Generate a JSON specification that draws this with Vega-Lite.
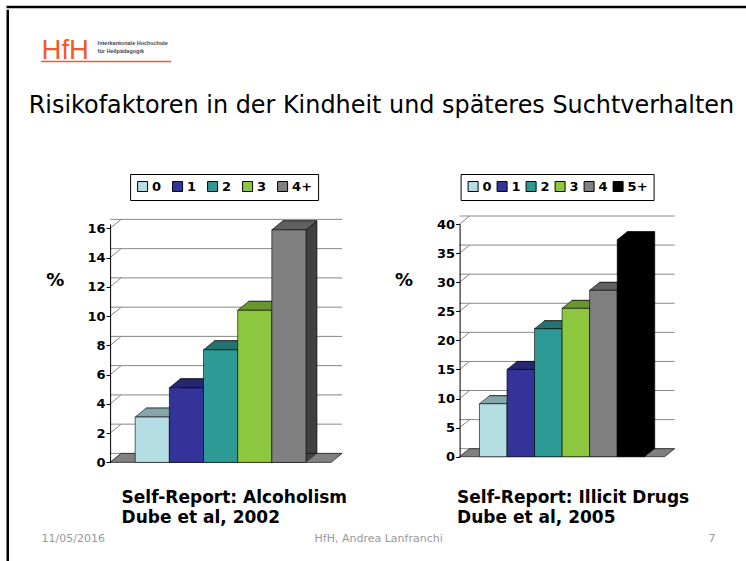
{
  "$schema": "https://vega.github.io/schema/vega-lite/v6.json",
  "background": "white",
  "padding": {"left": 5.75, "top": 5, "right": 0, "bottom": 0},
  "config": {"view": {"stroke": null}, "font": "DejaVu Sans"},
  "datasets": {
    "ticksL": [{"pct": 0}, {"pct": 2}, {"pct": 4}, {"pct": 6}, {"pct": 8}, {"pct": 10}, {"pct": 12}, {"pct": 14}, {"pct": 16}],
    "ticksR": [{"pct": 0}, {"pct": 5}, {"pct": 10}, {"pct": 15}, {"pct": 20}, {"pct": 25}, {"pct": 30}, {"pct": 35}, {"pct": 40}]
  },
  "spacing": 0,
  "vconcat": [
    {
      "width": 742, "height": 0.01,
      "view": {"stroke": "#000000", "strokeWidth": 2.5},
      "data": {"values": []},
      "mark": {"type": "point", "opacity": 0},
      "encoding": {}
    },
    {
      "spacing": 18.35,
      "hconcat": [
        {
          "width": 0.01, "height": 553,
          "view": {"stroke": "#000000", "strokeWidth": 2.5},
          "data": {"values": []},
          "mark": {"type": "point", "opacity": 0},
          "encoding": {}
        },
        {
          "spacing": 6,
          "vconcat": [
            {
              "width": 130, "height": 50.5,
              "data": {"values": [{}]},
              "mark": {"type": "rule", "color": "#EF5B2C", "strokeWidth": 1.3},
              "encoding": {
                "x": {"datum": -69, "type": "quantitative", "scale": {"domain": [0, 130]},
                  "axis": {"orient": "top", "domain": false, "ticks": false, "labels": false, "grid": false,
                    "title": "HfH", "titleFont": "Liberation Sans", "titleFontSize": 27.5, "titleFontWeight": "normal", "titleColor": "#EF5B2C",
                    "titleX": -69, "titleY": 47.5, "titleAlign": "left", "titleBaseline": "alphabetic", "titleAnchor": "start"}},
                "x2": {"datum": 61},
                "y": {"datum": 0, "type": "quantitative", "scale": {"domain": [0, 1]},
                  "axis": {"orient": "left", "domain": false, "ticks": false, "labels": false, "grid": false,
                    "title": ["Interkantonale Hochschule", "für Heilpädagogik"],
                    "titleFont": "Liberation Sans", "titleFontSize": 5.5, "titleFontWeight": "bold", "titleColor": "#444444", "titleAngle": 0,
                    "titleX": -13, "titleY": 33.5, "titleAlign": "left", "titleBaseline": "alphabetic", "titleLineHeight": 8, "titleAnchor": "start"}}
              }
            },
            {
              "spacing": 46.5,
              "title": {"text": ["", "Risikofaktoren in der Kindheit und späteres Suchtverhalten"], "anchor": "middle", "frame": "bounds", "font": "DejaVu Sans", "fontSize": 23.9, "fontWeight": "normal", "color": "#000000", "lineHeight": 23.5, "offset": 37, "dx": 14.25, "baseline": "alphabetic"},
              "hconcat": [
                {
                  "width": 221, "height": 238.4,
                  "data": {"values": [
                    {"risk": "0", "pct": 3.1}, {"risk": "1", "pct": 5.1}, {"risk": "2", "pct": 7.7}, {"risk": "3", "pct": 10.4}, {"risk": "4+", "pct": 15.9}
                  ]},
                  "encoding": {
                    "y": {"field": "pct", "type": "quantitative", "scale": {"domain": [0, 16.3], "nice": false},
                      "axis": {"values": [0, 2, 4, 6, 8, 10, 12, 14, 16], "grid": false, "domainColor": "#000000", "tickColor": "#000000", "tickSize": 4,
                        "labelFont": "DejaVu Sans", "labelFontSize": 13, "labelFontWeight": "bold", "labelColor": "#000000", "labelPadding": 1,
                        "title": "%", "titleAngle": 0, "titleFont": "DejaVu Sans", "titleFontSize": 18, "titleFontWeight": "bold", "titleColor": "#000000",
                        "titleX": -55.3, "titleY": 56.7, "titleAlign": "center", "titleBaseline": "middle", "zindex": 2}}
                  },
                  "layer": [
                    {
                      "data": {"name": "ticksL"},
                      "layer": [
                        {"mark": {"type": "rule", "color": "#888888", "strokeWidth": 1, "xOffset": 11, "x2Offset": 11, "yOffset": -9}, "encoding": {}},
                        {"mark": {"type": "rule", "color": "#888888", "strokeWidth": 1, "x2Offset": 11, "y2Offset": -9},
                          "encoding": {"x": {"datum": 0.0001, "type": "quantitative", "scale": {"domain": [0, 1]}, "axis": null}, "x2": {"datum": 0.0001}, "y2": {"field": "pct"}}},
                        {"transform": [{"filter": "datum.pct == 0"}],
                          "mark": {"type": "point", "shape": "M -110.5 0 L 110.5 0 L 121.5 -9 L -99.5 -9 Z", "size": 4, "filled": true, "opacity": 1, "color": "#808080", "stroke": "#000000", "strokeWidth": 0.6},
                          "encoding": {}},
                        {"transform": [{"filter": "datum.pct == 0"}],
                          "mark": {"type": "point", "shape": "M 85.4 0 L 96.4 -9 L 85.4 -9 Z", "size": 4, "filled": true, "opacity": 1, "color": "#404040", "strokeWidth": 0},
                          "encoding": {}}
                      ]
                    },
                    {
                      "data": {"values": [{}]},
                      "layer": [
                        {"mark": {"type": "rule", "color": "#888888", "strokeWidth": 1, "xOffset": 11, "x2Offset": 11, "yOffset": -9, "y2Offset": -9},
                          "encoding": {"x": {"datum": 0.0001, "type": "quantitative", "scale": {"domain": [0, 1]}, "axis": null}, "x2": {"datum": 0.0001}, "y": {"datum": 0.0001}, "y2": {"datum": 16}}}
                      ]
                    },
                    {
                      "encoding": {
                        "x": {"field": "risk", "type": "nominal", "sort": null, "scale": {"paddingInner": 0, "paddingOuter": 0.735},
                          "axis": {"domain": false, "ticks": false, "labels": false, "grid": false,
                            "title": ["Self-Report: Alcoholism", "Dube et al, 2002"], "titleFont": "DejaVu Sans", "titleFontSize": 17, "titleFontWeight": "bold", "titleColor": "#000000",
                            "titleX": 11, "titleY": 40.3, "titleAlign": "left", "titleBaseline": "alphabetic", "titleLineHeight": 20, "titleAnchor": "start"}}
                      },
                      "layer": [
                        {"mark": {"type": "bar", "xOffset": 11, "yOffset": -9, "y2Offset": -9, "stroke": "#000000", "strokeWidth": 0.6},
                          "encoding": {"color": {"field": "risk", "type": "nominal", "sort": null, "scale": {"range": ["#5A6F72", "#1A1A4D", "#174D4B", "#476320", "#404040"]}, "legend": null}}},
                        {"mark": {"type": "point", "shape": "M -17.08 0 L 17.08 0 L 28.08 -9 L -6.08 -9 Z", "size": 4, "filled": true, "opacity": 1, "stroke": "#000000", "strokeWidth": 0.6},
                          "encoding": {"color": {"field": "risk", "type": "nominal", "sort": null, "scale": {"range": ["#87A6AB", "#262673", "#237371", "#6A952F", "#606060"]}, "legend": null}}},
                        {"mark": {"type": "bar", "stroke": "#000000", "strokeWidth": 0.6},
                          "encoding": {"color": {"field": "risk", "type": "nominal", "sort": null, "scale": {"range": ["#B4DDE4", "#333399", "#2E9A96", "#8DC63F", "#808080"]},
                            "legend": {"orient": "none", "legendX": 20, "legendY": -50, "direction": "horizontal", "title": null, "strokeColor": "#000000", "fillColor": "#FFFFFF", "padding": 6, "gridAlign": "none",
                              "symbolType": "square", "symbolSize": 100, "symbolStrokeColor": "#000000", "symbolStrokeWidth": 1, "symbolOpacity": 1,
                              "labelFont": "DejaVu Sans", "labelFontSize": 13, "labelFontWeight": "bold", "labelColor": "#000000", "labelOffset": 3, "columnPadding": 8}}}}
                      ],
                      "resolve": {"scale": {"color": "independent"}}
                    }
                  ],
                  "resolve": {"scale": {"x": "independent"}}
                },
                {
                  "width": 205, "height": 232.7,
                  "data": {"values": [
                    {"risk": "0", "pct": 9.1}, {"risk": "1", "pct": 15.0}, {"risk": "2", "pct": 22.0}, {"risk": "3", "pct": 25.5}, {"risk": "4", "pct": 28.6}, {"risk": "5+", "pct": 37.3}
                  ]},
                  "encoding": {
                    "y": {"field": "pct", "type": "quantitative", "scale": {"domain": [0, 40], "nice": false},
                      "axis": {"values": [0, 5, 10, 15, 20, 25, 30, 35, 40], "grid": false, "domainColor": "#000000", "tickColor": "#000000", "tickSize": 4,
                        "labelFont": "DejaVu Sans", "labelFontSize": 13, "labelFontWeight": "bold", "labelColor": "#000000", "labelPadding": 1,
                        "title": "%", "titleAngle": 0, "titleFont": "DejaVu Sans", "titleFontSize": 18, "titleFontWeight": "bold", "titleColor": "#000000",
                        "titleX": -56.2, "titleY": 56.7, "titleAlign": "center", "titleBaseline": "middle", "zindex": 2}}
                  },
                  "layer": [
                    {
                      "data": {"name": "ticksR"},
                      "layer": [
                        {"mark": {"type": "rule", "color": "#888888", "strokeWidth": 1, "xOffset": 10, "x2Offset": 10, "yOffset": -8}, "encoding": {}},
                        {"mark": {"type": "rule", "color": "#888888", "strokeWidth": 1, "x2Offset": 10, "y2Offset": -8},
                          "encoding": {"x": {"datum": 0.0001, "type": "quantitative", "scale": {"domain": [0, 1]}, "axis": null}, "x2": {"datum": 0.0001}, "y2": {"field": "pct"}}},
                        {"transform": [{"filter": "datum.pct == 0"}],
                          "mark": {"type": "point", "shape": "M -102.5 0 L 102.5 0 L 112.5 -8 L -92.5 -8 Z", "size": 4, "filled": true, "opacity": 1, "color": "#808080", "stroke": "#000000", "strokeWidth": 0.6},
                          "encoding": {}},
                        {"transform": [{"filter": "datum.pct == 0"}],
                          "mark": {"type": "point", "shape": "M 82.66 0 L 92.66 -8 L 82.66 -8 Z", "size": 4, "filled": true, "opacity": 1, "color": "#000000", "strokeWidth": 0},
                          "encoding": {}}
                      ]
                    },
                    {
                      "data": {"values": [{}]},
                      "layer": [
                        {"mark": {"type": "rule", "color": "#888888", "strokeWidth": 1, "xOffset": 10, "x2Offset": 10, "yOffset": -8, "y2Offset": -8},
                          "encoding": {"x": {"datum": 0.0001, "type": "quantitative", "scale": {"domain": [0, 1]}, "axis": null}, "x2": {"datum": 0.0001}, "y": {"datum": 0.0001}, "y2": {"datum": 40}}}
                      ]
                    },
                    {
                      "encoding": {
                        "x": {"field": "risk", "type": "nominal", "sort": null, "scale": {"paddingInner": 0, "paddingOuter": 0.72},
                          "axis": {"domain": false, "ticks": false, "labels": false, "grid": false,
                            "title": ["Self-Report: Illicit Drugs", "Dube et al, 2005"], "titleFont": "DejaVu Sans", "titleFontSize": 17, "titleFontWeight": "bold", "titleColor": "#000000",
                            "titleX": -3, "titleY": 46, "titleAlign": "left", "titleBaseline": "alphabetic", "titleLineHeight": 20, "titleAnchor": "start"}}
                      },
                      "layer": [
                        {"mark": {"type": "bar", "xOffset": 10, "yOffset": -8, "y2Offset": -8, "stroke": "#000000", "strokeWidth": 0.6},
                          "encoding": {"color": {"field": "risk", "type": "nominal", "sort": null, "scale": {"range": ["#5A6F72", "#1A1A4D", "#174D4B", "#476320", "#404040", "#000000"]}, "legend": null}}},
                        {"mark": {"type": "point", "shape": "M -13.78 0 L 13.78 0 L 23.78 -8 L -3.78 -8 Z", "size": 4, "filled": true, "opacity": 1, "stroke": "#000000", "strokeWidth": 0.6},
                          "encoding": {"color": {"field": "risk", "type": "nominal", "sort": null, "scale": {"range": ["#87A6AB", "#262673", "#237371", "#6A952F", "#606060", "#000000"]}, "legend": null}}},
                        {"mark": {"type": "bar", "stroke": "#000000", "strokeWidth": 0.6},
                          "encoding": {"color": {"field": "risk", "type": "nominal", "sort": null, "scale": {"range": ["#B4DDE4", "#333399", "#2E9A96", "#8DC63F", "#808080", "#000000"]},
                            "legend": {"orient": "none", "legendX": 1, "legendY": -50, "direction": "horizontal", "title": null, "strokeColor": "#000000", "fillColor": "#FFFFFF", "padding": 6, "gridAlign": "none",
                              "symbolType": "square", "symbolSize": 100, "symbolStrokeColor": "#000000", "symbolStrokeWidth": 1, "symbolOpacity": 1,
                              "labelFont": "DejaVu Sans", "labelFontSize": 13, "labelFontWeight": "bold", "labelColor": "#000000", "labelOffset": 3, "columnPadding": 2}}}}
                      ],
                      "resolve": {"scale": {"color": "independent"}}
                    }
                  ],
                  "resolve": {"scale": {"x": "independent"}}
                }
              ]
            },
            {
              "width": 674, "height": 0.01,
              "data": {"values": [{"t": "11/05/2016"}, {"t": "HfH, Andrea Lanfranchi"}, {"t": "7"}]},
              "mark": {"type": "point", "opacity": 0, "size": 0},
              "encoding": {
                "x": {"field": "t", "type": "nominal", "sort": null, "scale": {"type": "point", "padding": 0},
                  "axis": {"orient": "bottom", "domain": false, "ticks": false, "grid": false, "labelFlush": true, "labelPadding": 0, "labelOffset": -69,
                    "labelFont": "DejaVu Sans", "labelFontSize": 11, "labelColor": "#999999", "labelAngle": 0, "labelOverlap": false, "title": null}}
              }
            }
          ]
        }
      ]
    }
  ]
}
